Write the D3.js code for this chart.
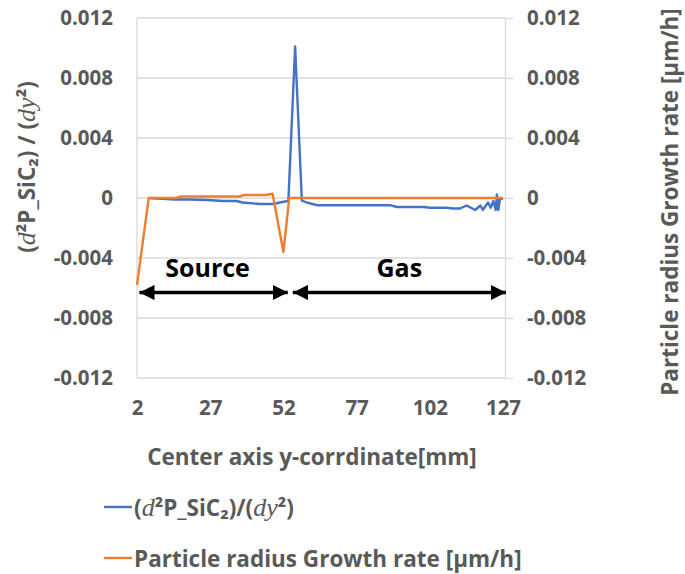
<!DOCTYPE html>
<html>
<head>
<meta charset="utf-8">
<script src="https://cdn.jsdelivr.net/npm/d3@7"></script>
<style>
  body { margin: 0; background: #fff; }
  text { font-family: "Open Sans", Lato, sans-serif; font-weight: bold; }
</style>
</head>
<body>
<svg id="graph" width="685" height="574"></svg>
<script>
  // data
  var xTicks = [2, 27, 52, 77, 102, 127];
  var yTicks = [-0.012, -0.008, -0.004, 0, 0.004, 0.008, 0.012];

  var blueX = [6, 15, 20, 26, 31.5, 36, 38, 44, 48.5, 52, 53.7, 56, 58.3, 60, 63.4, 70, 80, 88.4, 90.7, 100, 102, 107.8, 110, 112.3,
               114.6, 117.5, 119.3, 120.1, 121.9, 122.8, 123.7, 124.5, 124.9, 125.4, 126, 127];
  var blueY = [0, -0.0001, -0.0001, -0.00013, -0.0002, -0.0002, -0.0003, -0.0004, -0.0004, -0.00025, -0.0002, 0.0101, -0.00017, -0.0003, -0.00048, -0.00048, -0.00048, -0.00048, -0.0006, -0.0006, -0.00065, -0.00065, -0.0007, -0.0007,
               -0.0005, -0.0008, -0.0005, -0.0008, -0.0003, -0.00065, -0.0002, -0.0008, 0.00023, -0.0008, 0, -0.0001];

  var orangeX = [2, 6, 15.6, 17, 37, 38.5, 46, 48.3, 52, 54, 127];
  var orangeY = [-0.0058, 0, 0, 0.0001, 0.0001, 0.0002, 0.0002, 0.00028, -0.0036, 0, 0];

  // region annotations: label, start, end (x in mm)
  var regions = ["Source", "Gas"];
  var regionStart = [2.8, 55.2];
  var regionEnd = [53.5, 128];
  var regionY = -0.0063;

  var orangeName = "Particle radius Growth rate [µm/h]";
  var xTitle = "Center axis y-corrdinate[mm]";

  var blue = "#4472C4", orange = "#ED7D31", grey = "#595959", grid = "#d9d9d9";

  var svg = d3.select("#graph");
  var padLeft = 137, padRight = 505, padTop = 18, padBottom = 378;

  var x = d3.scaleLinear().domain([2, 127]).range([padLeft, padRight - 2]);
  var y = d3.scaleLinear().domain([-0.012, 0.012]).range([padBottom, padTop]);
  var y2 = d3.scaleLinear().domain([-0.012, 0.012]).range([padBottom, padTop]);

  // Excel style: plain hyphen for negatives, bare 0
  function fmt(d) { return d == 0 ? "0" : d3.format(".3f")(d).replace("\u2212", "-"); }

  // gridlines
  svg.append("g").selectAll("line").data(yTicks).enter().append("line")
    .attr("x1", padLeft).attr("x2", padRight)
    .attr("y1", function(d) { return y(d); }).attr("y2", function(d) { return y(d); })
    .attr("stroke", grid).attr("stroke-width", 1.3);

  // left axis (line only, labels)
  svg.append("line").attr("x1", padLeft).attr("x2", padLeft).attr("y1", padTop).attr("y2", padBottom)
    .attr("stroke", grid).attr("stroke-width", 1.3);
  var yAx = svg.append("g").attr("transform", "translate(" + padLeft + ",0)")
    .call(d3.axisLeft(y).tickValues(yTicks).tickFormat(fmt).tickSize(0).tickPadding(24));
  yAx.select(".domain").remove();

  // right axis
  var yAx2 = svg.append("g").attr("transform", "translate(" + padRight + ",0)")
    .call(d3.axisRight(y2).tickValues(yTicks).tickFormat(fmt).tickSizeOuter(0).tickSizeInner(8).tickPadding(14));
  yAx2.select(".domain").attr("stroke", grid).attr("stroke-width", 1.3);
  yAx2.selectAll(".tick line").attr("stroke", grid).attr("stroke-width", 1.3);

  // x axis
  var xAx = svg.append("g").attr("transform", "translate(0," + padBottom + ")")
    .call(d3.axisBottom(x).tickValues(xTicks).tickFormat(d3.format("d")).tickSize(0).tickPadding(22));
  xAx.select(".domain").remove();

  svg.selectAll(".tick text").attr("fill", grey).style("font-size", "20.5px");

  // lines
  var blueData = blueX.map(function(d, i) { return [d, blueY[i]]; });
  var orangeData = orangeX.map(function(d, i) { return [d, orangeY[i]]; });

  svg.append("path").datum(blueData)
    .attr("d", d3.line().x(function(d) { return x(d[0]); }).y(function(d) { return y(d[1]); }))
    .attr("fill", "none").attr("stroke", blue).attr("stroke-width", 2.4).attr("stroke-linejoin", "round");
  svg.append("path").datum(orangeData)
    .attr("d", d3.line().x(function(d) { return x(d[0]); }).y(function(d) { return y2(d[1]); }))
    .attr("fill", "none").attr("stroke", orange).attr("stroke-width", 2.4).attr("stroke-linejoin", "round");

  // region arrows and labels
  var defs = svg.append("defs");
  defs.append("marker").attr("id", "head").attr("viewBox", "0 0 10 10")
    .attr("refX", 10).attr("refY", 5).attr("markerWidth", 4.6).attr("markerHeight", 4.6)
    .attr("markerUnits", "strokeWidth").attr("orient", "auto-start-reverse")
    .append("path").attr("d", "M0,0 L10,5 L0,10 Z").attr("fill", "#000");

  regions.forEach(function(r, i) {
    svg.append("line")
      .attr("x1", x(regionStart[i])).attr("x2", x(regionEnd[i]))
      .attr("y1", y(regionY)).attr("y2", y(regionY))
      .attr("stroke", "#000").attr("stroke-width", 3.3)
      .attr("marker-start", "url(#head)").attr("marker-end", "url(#head)");
    svg.append("text").text(r)
      .attr("x", (x(regionStart[i]) + x(regionEnd[i])) / 2 + (i == 0 ? -6 : 0))
      .attr("y", y(regionY) - 16)
      .attr("text-anchor", "middle").style("font-size", "25px").attr("fill", "#000");
  });

  // math-style pieces of the derivative label
  function mathLabel(t, sep) {
    function it(s) {
      t.append("tspan").text(s).style("font-family", "'Liberation Serif', serif")
        .style("font-style", "italic").style("font-weight", "normal").style("font-size", "26px");
    }
    t.append("tspan").text("(");
    it("d");
    t.append("tspan").text("²P_SiC₂)" + sep + "(");
    it("dy");
    t.append("tspan").text("²)");
  }

  // axis titles
  var yt = svg.append("text").attr("transform", "translate(35,167) rotate(-90)")
    .attr("text-anchor", "middle").attr("fill", grey).style("font-size", "22.5px");
  mathLabel(yt, " / ");

  svg.append("text").text(orangeName)
    .attr("transform", "translate(678,202) rotate(-90)")
    .attr("text-anchor", "middle").attr("fill", grey).style("font-size", "22.5px");

  svg.append("text").text(xTitle)
    .attr("x", 312).attr("y", 465)
    .attr("text-anchor", "middle").attr("fill", grey).style("font-size", "22.5px");

  // legend
  var legY = [507, 558];
  var legColors = [blue, orange];
  legColors.forEach(function(c, i) {
    svg.append("line").attr("x1", 104).attr("x2", 132)
      .attr("y1", legY[i]).attr("y2", legY[i])
      .attr("stroke", c).attr("stroke-width", 2.4);
  });
  var lt = svg.append("text").attr("x", 134).attr("y", legY[0] + 9).attr("fill", grey).style("font-size", "22.5px");
  mathLabel(lt, "/");
  svg.append("text").text(orangeName).attr("x", 134).attr("y", legY[1] + 9)
    .attr("fill", grey).style("font-size", "22.5px");
</script>
</body>
</html>
